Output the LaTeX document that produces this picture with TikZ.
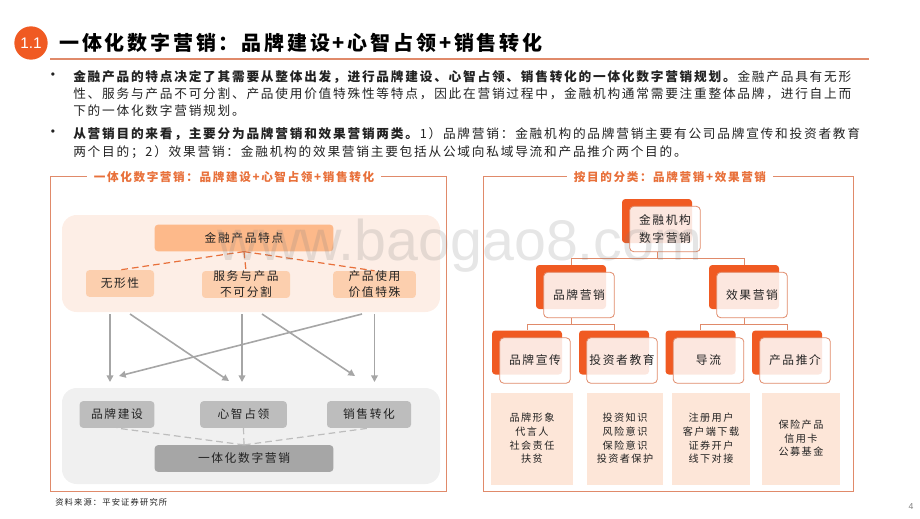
\documentclass[tikz,border=0pt]{standalone}
\usepackage{fontspec}
\usepackage{xcolor}
\usetikzlibrary{arrows.meta}
\setmainfont{Noto Sans CJK SC}[LetterSpace=14]
\newfontfamily\titlefont{Noto Sans CJK SC}[LetterSpace=14]
\newfontfamily\latinfont{Liberation Sans}
\newcommand{\zcolon}{\symbol{"FF1A}}
\newcommand{\zcomma}{\symbol{"FF0C}}
\newcommand{\zsemi}{\symbol{"FF1B}}
\newcommand{\zparen}{\symbol{"FF09}}
\definecolor{ink}{HTML}{222222}
\definecolor{brand}{HTML}{F05A22}
\definecolor{rulec}{HTML}{E08A6A}
\definecolor{head}{HTML}{E8703A}
\definecolor{panelp}{HTML}{FDEEE6}
\definecolor{panelg}{HTML}{F0F0F0}
\definecolor{featc}{HTML}{FDB98A}
\definecolor{subc}{HTML}{FCCFAE}
\definecolor{greyl}{HTML}{BDBDBD}
\definecolor{greyd}{HTML}{A6A6A6}
\definecolor{detail}{HTML}{FDE6D8}
\tikzset{
  lab/.style={text=ink, inner sep=0pt, align=center, font=\fontsize{8.8}{12}\selectfont},
  line/.style={anchor=west, text=ink, inner sep=0pt, font=\fontsize{9.5}{12}\selectfont},
  head/.style={fill=white, text=head, inner xsep=5pt, inner ysep=1pt, font=\bfseries\fontsize{8.7}{12}\selectfont},
  frame/.style={draw=rulec, line width=0.7pt},
  softbox/.style={lab, rounded corners=2.5pt},
  dashp/.style={draw=head, dash pattern=on 5pt off 3pt, line width=0.9pt},
  dashg/.style={draw=greyl, dash pattern=on 5pt off 3pt, line width=0.9pt},
  flow/.style={draw=greyd, line width=1.2pt, -{Triangle[length=5pt,width=5pt]}},
  cardb/.style={fill=brand, rounded corners=2.5pt, minimum width=52.5pt, minimum height=33pt, inner sep=0pt},
  cardf/.style={lab, draw=rulec, line width=0.6pt, fill=white, fill opacity=0.86, text opacity=1, rounded corners=3pt, minimum width=53pt, minimum height=34pt},
  tree/.style={draw=rulec, line width=0.6pt},
  info/.style={lab, fill=detail, minimum height=69pt, font=\fontsize{7.6}{10.2}\selectfont},
}
\begin{document}
\begin{tikzpicture}[x=0.75pt,y=-0.75pt]
  \useasboundingbox (0,0) rectangle (920,518);
  \node[circle, fill=brand, minimum size=25pt, inner sep=0pt, text=white, font=\latinfont\fontsize{11.5}{12}\selectfont] (badge) at (31,43) {1.1};
  \node[anchor=west, inner sep=0pt, text=black, font=\titlefont\bfseries\fontsize{15}{18}\selectfont] (title) at (59,43) {一体化数字营销\zcolon{}品牌建设+心智占领+销售转化};
  \draw[draw=rulec, line width=1.2pt] (50,59) -- (869,59);

  \foreach \N/\Y in {bulleta/76,bulletb/133}
    \node[inner sep=0pt, text=ink, font=\latinfont\fontsize{9}{12}\selectfont] (\N) at (53,\Y) {•};
  \node[line] (linea) at (73,77) {\textbf{金融产品的特点决定了其需要从整体出发\zcomma{}进行品牌建设、心智占领、销售转化的一体化数字营销规划。}金融产品具有无形};
  \node[line] (lineb) at (73,94) {性、服务与产品不可分割、产品使用价值特殊性等特点\zcomma{}因此在营销过程中\zcomma{}金融机构通常需要注重整体品牌\zcomma{}进行自上而};
  \node[line] (linec) at (73,111) {下的一体化数字营销规划。};
  \node[line] (lined) at (73,134) {\textbf{从营销目的来看\zcomma{}主要分为品牌营销和效果营销两类。}1\zparen{}品牌营销\zcolon{}金融机构的品牌营销主要有公司品牌宣传和投资者教育};
  \node[line] (linee) at (73,152) {两个目的\zsemi{}2\zparen{}效果营销\zcolon{}金融机构的效果营销主要包括从公域向私域导流和产品推介两个目的。};

  \draw[frame] (50,176) rectangle (446,491);
  \draw[frame] (483,176) rectangle (853,491);
  \node[head] (headl) at (234,177) {一体化数字营销\zcolon{}品牌建设+心智占领+销售转化};
  \node[head] (headr) at (670,177) {按目的分类\zcolon{}品牌营销+效果营销};

  \fill[panelp, rounded corners=11pt] (62,215) rectangle (440,312);
  \fill[panelg, rounded corners=11pt] (62,388) rectangle (440,484);

  \foreach \N/\X/\Y/\W/\C/\T in {
    feat/244/238/134/featc/金融产品特点,
    wuxing/120/283.5/51/subc/无形性,
    fuwu/246/284.5/66/subc/{服务与产品\\不可分割},
    jiazhi/374.5/284.5/62/subc/{产品使用\\价值特殊},
    pinpai/117/414.5/56/greyl/品牌建设,
    xinzhi/243.5/414.5/65/greyl/心智占领,
    xiaoshou/369/414.5/63/greyl/销售转化,
    digital/244/458.5/134/greyd/一体化数字营销}
    \node[softbox, fill=\C, minimum width=\W pt, minimum height=20pt] (\N) at (\X,\Y) {\T};

  \foreach \N in {wuxing,fuwu,jiazhi}
    \draw[dashp] (feat.south) -- (\N.north);
  \foreach \N in {pinpai,xinzhi,xiaoshou}
    \draw[dashg] (digital.north) -- (\N.south);

  \foreach \N/\X/\Y in {sa/110/314,sb/130/314,sc/242/314,sd/262/314,se/362/314,sf/374.5/314,
    ta/110/382,tb/119/376,tc/229/381,td/242/382,te/355/376,tf/374.5/382}
    \coordinate (\N) at (\X,\Y);
  \foreach \A/\B in {sa/ta,sb/tc,sc/td,sd/te,se/tb,sf/tf}
    \draw[flow] (\A) -- (\B);

  \foreach \N/\X/\Y/\T in {
    root/657/221/{金融机构\\[2pt]数字营销},
    brand/571/287/品牌营销,
    effect/744/287/效果营销,
    xuanchuan/527/352.5/品牌宣传,
    jiaoyu/614/352.5/投资者教育,
    daoliu/700.5/352.5/导流,
    tuijie/787/352.5/产品推介}
    {
    \node[cardb] (\N-b) at (\X,\Y) {};
    \node[cardf] (\N-f) at (\X+8,\Y+8) {\T};
    }

  \foreach \P/\A/\B in {root/brand/effect,brand/xuanchuan/jiaoyu,effect/daoliu/tuijie}
    {
    \draw[tree] (\P-b |- \P-f.south) -- ++(0,6) -| (\A-b.north);
    \draw[tree] (\P-b |- \P-f.south) -- ++(0,6) -| (\B-b.north);
    }

  \foreach \N/\X/\W/\T in {
    infoa/532/82/{品牌形象\\代言人\\社会责任\\扶贫},
    infob/625/76/{投资知识\\风险意识\\保险意识\\投资者保护},
    infoc/711/78/{注册用户\\客户端下载\\证券开户\\线下对接},
    infod/801/78/{保险产品\\信用卡\\公募基金}}
    \node[info, minimum width=\W*0.75pt] (\N) at (\X,438.5) {\T};

  \node[anchor=west, inner sep=0pt, text=ink, font=\fontsize{6.2}{8}\selectfont] (source) at (55,502) {资料来源\zcolon{}平安证券研究所};
  \node[inner sep=0pt, text=gray, font=\latinfont\fontsize{6.5}{8}\selectfont] (page) at (911,507) {4};
  \node[anchor=base, inner sep=0pt, text=gray, opacity=0.2, font=\latinfont\fontsize{43}{50}\selectfont] (mark) at (460,260) {www.baogao8.com};
\end{tikzpicture}
\end{document}
